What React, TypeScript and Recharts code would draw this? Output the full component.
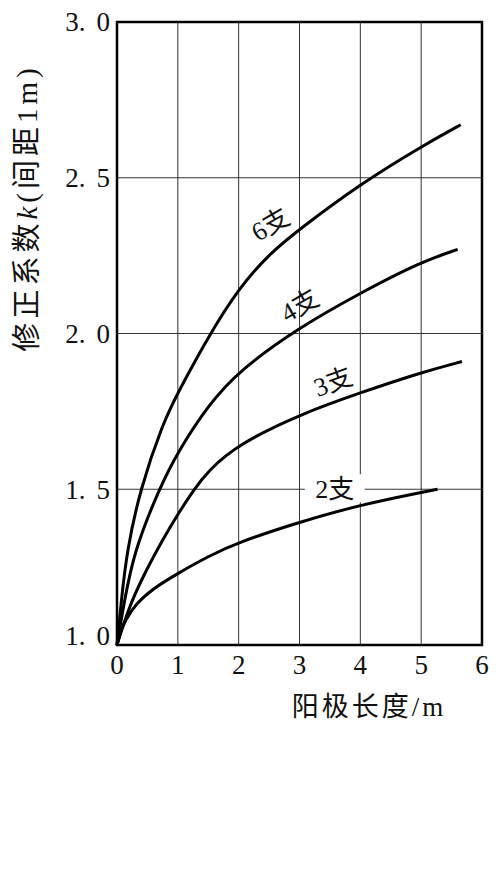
import React from 'react';
import {
    LineChart, Line, XAxis, YAxis, CartesianGrid, ReferenceArea, ReferenceDot, Label,
} from 'recharts';

// 阳极长度 (m) / 修正系数 k，每条曲线单独取点
const X6 = [0, 0.07, 0.16, 0.38, 0.75, 1, 1.5, 2, 2.5, 3, 4, 5, 5.65];
const K6 = [1.0, 1.14, 1.30, 1.50, 1.71, 1.81, 1.99, 2.145, 2.255, 2.335, 2.48, 2.60, 2.67];
const X4 = [0, 0.12, 0.28, 0.69, 1, 1.5, 2, 3, 4, 5, 5.6];
const K4 = [1.0, 1.14, 1.30, 1.50, 1.62, 1.77, 1.88, 2.02, 2.13, 2.23, 2.27];
const X3 = [0, 0.21, 0.48, 0.74, 1, 1.25, 1.5, 2, 3, 4, 5, 5.67];
const K3 = [1.0, 1.13, 1.24, 1.335, 1.42, 1.495, 1.56, 1.645, 1.74, 1.81, 1.875, 1.91];
const X2 = [0, 0.05, 0.14, 0.3, 0.58, 1, 1.5, 2, 3, 4, 5, 5.27];
const K2 = [1.0, 1.04, 1.08, 1.13, 1.18, 1.23, 1.285, 1.33, 1.395, 1.45, 1.49, 1.5];

const X_TICKS = [0, 1, 2, 3, 4, 5, 6];
const Y_TICKS = [1, 1.5, 2, 2.5, 3];

// 曲线标注: [文字, x, k, 旋转角]
const LABELS: [string, number, number, number][] = [
    ['6支', 2.52, 2.35, -30],
    ['4支', 3.0, 2.09, -30],
    ['3支', 3.55, 1.845, -20],
    ['2支', 3.58, 1.5, 0],
];

const zip = (xs: number[], ks: number[]) => xs.map((x, i) => ({ x, k: ks[i] }));
const SERIES = [zip(X6, K6), zip(X4, K4), zip(X3, K3), zip(X2, K2)];

const FONT = "'Liberation Serif', 'Noto Sans CJK SC', serif";

const XTick = (p: any) => (
    <text x={p.x} y={p.y} dy="0.72em" textAnchor="middle" fontFamily={FONT} fontSize={27} fill="#111">
        {p.payload.value}
    </text>
);
const YTick = (p: any) => {
    const [a, b] = Number(p.payload.value).toFixed(1).split('.');
    // 底部的 1.0 在原图里略微上移
    const lift = p.payload.value === 1 ? -9 : 0;
    return (
        <text x={p.x} y={p.y + lift} dy="0.35em" textAnchor="end" fontFamily={FONT} fontSize={27} fill="#111">
            {a}.<tspan dx={11}>{b}</tspan>
        </text>
    );
};

export default function App() {
    return (
        <div style={{ position: 'absolute', left: 0, top: 0, width: 501, height: 885, background: '#fff' }}>
            <LineChart width={501} height={885} data={SERIES[0]}
                margin={{ top: 22, right: 19, left: 0, bottom: 200 }}>
                <CartesianGrid stroke="#333" strokeWidth={1} horizontalValues={Y_TICKS} verticalValues={X_TICKS} />
                <XAxis dataKey="x" type="number" domain={[0, 6]} ticks={X_TICKS} interval={0}
                    axisLine={false} tickLine={false} tickSize={0} tickMargin={10} height={40} tick={<XTick />}>
                    <Label content={() => (
                        <text x={369} y={716} textAnchor="middle" fontFamily={FONT} fontSize={27}
                            letterSpacing={3} fill="#111">阳极长度/m</text>
                    )} />
                </XAxis>
                <YAxis type="number" domain={[1, 3]} ticks={Y_TICKS} interval={0} width={117}
                    axisLine={false} tickLine={false} tickSize={0} tickMargin={7} tick={<YTick />}>
                    <Label content={() => (
                        <text x={0} y={0} transform="translate(37,208) rotate(-90)" textAnchor="middle"
                            fontFamily={FONT} fontSize={29} letterSpacing={4} fill="#111">
                            修正系数<tspan fontStyle="italic">k</tspan>(间距1m)
                        </text>
                    )} />
                </YAxis>
                {SERIES.map((d, i) => (
                    <Line key={i} data={d} dataKey="k" type="basis" stroke="#000" strokeWidth={3}
                        dot={false} activeDot={false} isAnimationActive={false} />
                ))}
                <ReferenceArea x1={0} x2={6} y1={1} y2={3} fill="none" fillOpacity={0}
                    stroke="#000" strokeWidth={2.5} />
                {LABELS.map(([t, x, k, a]) => (
                    <ReferenceDot key={t} x={x} y={k} r={1} ifOverflow="visible"
                        shape={(p: any) => (
                            <g transform={`translate(${p.cx},${p.cy}) rotate(${a})`}>
                                {a === 0 && <rect x={-30} y={-15} width={60} height={28} fill="#fff" />}
                                <text x={0} y={0} dy="0.35em" textAnchor="middle" fontFamily={FONT}
                                    fontSize={26} fill="#111">{t}</text>
                            </g>
                        )} />
                ))}
            </LineChart>
        </div>
    );
}
